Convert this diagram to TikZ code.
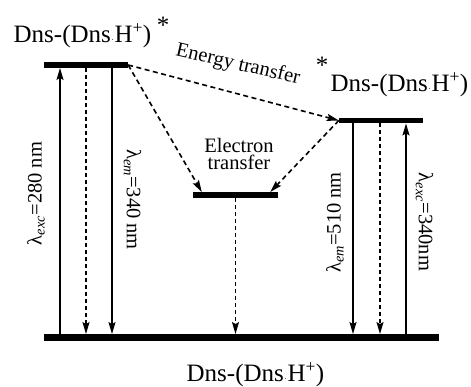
\documentclass[tikz,border=0pt]{standalone}
\usepackage{fontspec}
\setmainfont{Liberation Serif}
\usetikzlibrary{arrows.meta,positioning,calc}
\newcommand{\dnsh}{Dns-(Dns\kern0.5pt{\fontsize{8}{8}\selectfont\textperiodcentered}\kern0.5pt H\textsuperscript{+})}
\newcommand{\lam}[1]{λ\textsubscript{\textit{#1}}}

\begin{document}
\begin{tikzpicture}[
    x=1pt,y=1pt,
    level/.style={fill=black,inner sep=0pt,minimum height=5.5pt},
    state/.style={font=\fontsize{25}{29}\selectfont,inner sep=0pt,anchor=base},
    wave/.style={font=\fontsize{20.5}{24}\selectfont,inner sep=0pt},
    note/.style={font=\fontsize{20.5}{17}\selectfont,inner sep=0pt,align=center},
    arr/.style={-{Stealth[length=12pt,width=7pt,inset=2pt]},line width=1.3pt},
    darr/.style={arr,dash pattern=on 4pt off 3pt},
    tarr/.style={-{Stealth[length=12pt,width=7pt,inset=2pt]},line width=1.6pt,dash pattern=on 5pt off 3.5pt}
  ]
    \useasboundingbox (0,0) rectangle (471,387);
    % levels
    \node[level,minimum width=84pt] (S1) at (86,322) {};
    \node[level,minimum width=84pt] (T1) at (381,266.5) {};
    \node[level,minimum width=85pt] (CT) at (235.5,192) {};
    \node[level,minimum width=395pt,minimum height=6.5pt] (S0) at (241.5,49.5) {};
    % level labels
    \node[state] (lS1) at (82.5,344) {\dnsh};
    \node[state] (sS1) at (163,353.5) {*};
    \node[state] (lT1) at (399.5,295) {\dnsh};
    \node[state] (sT1) at (322,313) {*};
    \node[state] (lS0) at (255.5,5) {\dnsh};
    % vertical transitions
    \coordinate (a1) at ([xshift=-26pt]S1.south);
    \coordinate (a2) at (S1.south);
    \coordinate (a3) at ([xshift=26pt]S1.south);
    \coordinate (b1) at ([xshift=-28pt]T1.south);
    \coordinate (b2) at ([xshift=-1pt]T1.south);
    \coordinate (b3) at ([xshift=25pt]T1.south);
    \draw[arr] (a1 |- S0.north) -- (a1);
    \draw[darr] (a2) -- (a2 |- S0.north);
    \draw[arr] (a3) -- (a3 |- S0.north);
    \draw[arr] (b1) -- (b1 |- S0.north);
    \draw[darr] (b2) -- (b2 |- S0.north);
    \draw[arr] (b3 |- S0.north) -- (b3);
    \draw[darr] (CT.south) -- (CT.south |- S0.north);
    % wavelengths
    \node[wave,rotate=90] (x280) at (36,193.5) {\lam{exc}=280 nm};
    \node[wave,rotate=-90] (m340) at (132.5,187.5) {\lam{em}=340 nm};
    \node[wave,rotate=90] (m510) at (335,164.5) {\lam{em}=510 nm};
    \node[wave,rotate=-90] (x340) at (424.5,165) {\lam{exc}=340nm};
    % transfer paths
    \draw[tarr] (S1.east) -- (T1.west);
    \draw[tarr] (S1.east) -- ([xshift=9pt]CT.north west);
    \draw[tarr] (T1.west) -- ([xshift=-8pt]CT.north east);
    \node[note,rotate=-13] (et) at (238,322) {Energy transfer};
    \node[note] (elt) at (239,233) {Electron\\transfer};
  \end{tikzpicture}
\end{document}
